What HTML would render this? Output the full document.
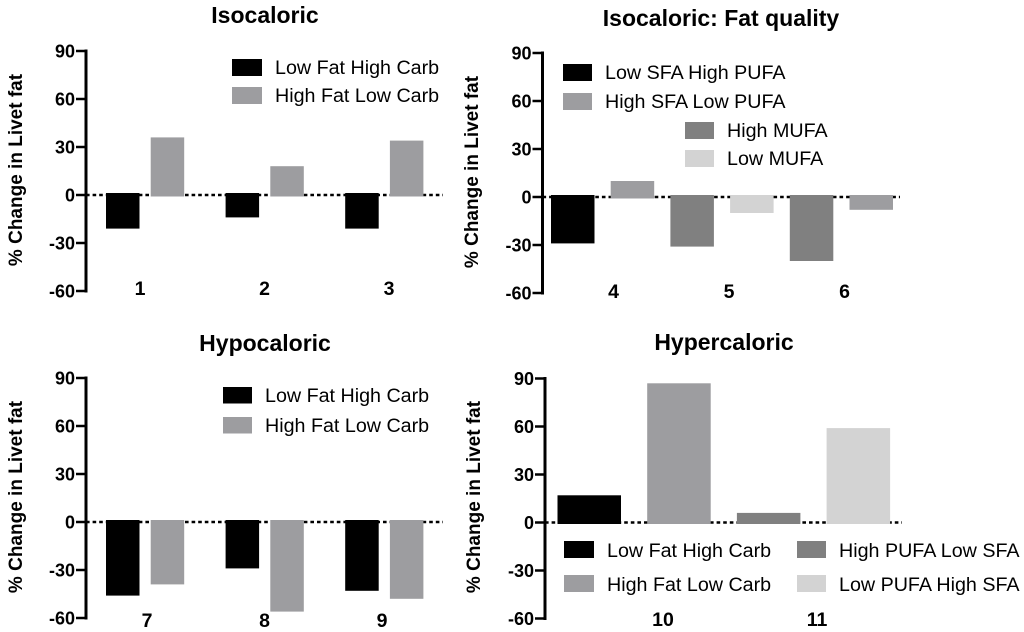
<!DOCTYPE html>
<html lang="en">
<head>
<meta charset="utf-8">
<title>Change in Liver Fat Charts</title>
<style>
html,body{margin:0;padding:0;background:#fff;width:1024px;height:632px;overflow:hidden}
svg{display:block;filter:blur(0.35px)}
text{font-family:"Liberation Sans",Arial,sans-serif;fill:#000}
.title{font-size:23px;font-weight:bold;text-anchor:middle}
.ytitle{font-size:19px;font-weight:bold;text-anchor:middle}
.tick{font-size:18px;font-weight:bold;text-anchor:end}
.cat{font-size:19.500px;font-weight:bold;text-anchor:middle}
.leg{font-size:19.700px}
</style>
</head>
<body>
<svg id="chart" width="1024" height="632" viewBox="0 0 1024 632" xmlns="http://www.w3.org/2000/svg">
  <g id="panels"></g>

  <g>
    <text class="title" x="265" y="23">Isocaloric</text>
    <text class="title" x="721" y="26">Isocaloric: Fat quality</text>
    <text class="title" x="265" y="351">Hypocaloric</text>
    <text class="title" x="724" y="350">Hypercaloric</text>
  </g>

  <g>
    <text class="ytitle" transform="translate(22 170) rotate(-90)">% Change in Livet fat</text>
    <text class="ytitle" transform="translate(478 172) rotate(-90)">% Change in Livet fat</text>
    <text class="ytitle" transform="translate(22 497) rotate(-90)">% Change in Livet fat</text>
    <text class="ytitle" transform="translate(480 497) rotate(-90)">% Change in Livet fat</text>
  </g>

  <g>
    <rect x="232" y="59" width="30" height="17" fill="#000000"/>
    <text class="leg" x="275" y="74">Low Fat High Carb</text>
    <rect x="232" y="87" width="30" height="17" fill="#9d9da0"/>
    <text class="leg" x="275" y="102">High Fat Low Carb</text>
  </g>

  <g>
    <rect x="563" y="64" width="29" height="17" fill="#000000"/>
    <text class="leg" x="605" y="79">Low SFA High PUFA</text>
    <rect x="563" y="93" width="29" height="17" fill="#9d9da0"/>
    <text class="leg" x="605" y="108">High SFA Low PUFA</text>
    <rect x="685" y="122" width="29" height="17" fill="#808080"/>
    <text class="leg" x="727" y="137">High MUFA</text>
    <rect x="685" y="150" width="29" height="17" fill="#d3d3d3"/>
    <text class="leg" x="727" y="165">Low MUFA</text>
  </g>

  <g>
    <rect x="223" y="387" width="29" height="16.500" fill="#000000"/>
    <text class="leg" x="265" y="402">Low Fat High Carb</text>
    <rect x="223" y="417" width="29" height="16.500" fill="#9d9da0"/>
    <text class="leg" x="265" y="432">High Fat Low Carb</text>
  </g>

  <g>
    <rect x="564" y="541" width="30" height="17" fill="#000000"/>
    <text class="leg" x="607" y="557">Low Fat High Carb</text>
    <rect x="564" y="575" width="30" height="17" fill="#9d9da0"/>
    <text class="leg" x="607" y="591">High Fat Low Carb</text>
    <rect x="797" y="541" width="29" height="17" fill="#808080"/>
    <text class="leg" x="839" y="557">High PUFA Low SFA</text>
    <rect x="797" y="575" width="29" height="17" fill="#d3d3d3"/>
    <text class="leg" x="839" y="591">Low PUFA High SFA</text>
  </g>
</svg>

<script>
// Shared tick labels
var tickLabels = [90, 60, 30, 0, -30, -60];

// Isocaloric
var isoCategories = ["1", "2", "3"];
var isoLowFat = [-21, -14, -21];
var isoHighFat = [36, 18, 34];

// Isocaloric: fat quality
var qualityCategories = ["4", "5", "6"];
var qualityValues = [-29, 10, -31, -10, -40, -8];
var qualityTones = ["black", "mid", "dark", "light", "dark", "mid"];

// Hypocaloric
var hypoCategories = ["7", "8", "9"];
var hypoLowFat = [-46, -29, -43];
var hypoHighFat = [-39, -56, -48];

// Hypercaloric
var hyperCategories = ["10", "11"];
var hyperValues = [17, 87, 6, 59];
var hyperTones = ["black", "mid", "dark", "light"];

var palette = { black: "#000000", mid: "#9d9da0", dark: "#808080", light: "#d3d3d3" };
var SVG_NS = "http://www.w3.org/2000/svg";
var root = document.getElementById("panels");

function make(tag, attrs, parent) {
  var el = document.createElementNS(SVG_NS, tag);
  for (var k in attrs) { el.setAttribute(k, attrs[k]); }
  parent.appendChild(el);
  return el;
}

function drawAxis(p) {
  var g = make("g", {}, root);
  
  
  var top = p.y(tickLabels[0]);
  var bottom = p.y(tickLabels[tickLabels.length - 1]);
  var axisLine = make("line", { x1: p.axisX, x2: p.axisX, y1: top - 1.5, y2: bottom + 1.5, stroke: "#000", "stroke-width": 3 }, g);
  
  
  tickLabels.forEach(function (t) {
    var tick = make("line", { x1: p.axisX - 10, x2: p.axisX, y1: p.y(t), y2: p.y(t), stroke: "#000", "stroke-width": 2.5 }, g);
    
    
    var label = make("text", { "class": "tick", x: p.axisX - 11, y: p.y(t) + 6.5 }, g);
    
    
    label.textContent = String(t);
  });
}

function drawZeroLine(p) {
  var zero = make("line", { x1: p.axisX, x2: p.zeroEnd, y1: p.y(0), y2: p.y(0), stroke: "#000", "stroke-width": 2.5, "stroke-dasharray": "3.6 3" }, root);
  
  
}

function drawBar(p, left, width, value, color) {
  var y0 = p.y(0), yv = p.y(value);
  var top = value < 0 ? y0 - 2 : yv;
  var bottom = value < 0 ? yv : y0 + 1.5;
  var bar = make("rect", { x: left, y: top, width: width, height: bottom - top, fill: color }, root);
  
  
}

function drawCategories(p, categories) {
  categories.forEach(function (c, i) {
    var label = make("text", { "class": "cat", x: p.catStart + p.catStep * i, y: p.catY }, root);
    
    
    label.textContent = c;
  });
}

function yScale(zeroY) {
  return function (v) { return zeroY - v * 1.6; };
}

function pairedPanel(p, categories, first, second) {
  drawZeroLine(p);
  categories.forEach(function (c, i) {
    drawBar(p, p.barStart + p.groupStep * i, p.barW, first[i], palette.black);
    drawBar(p, p.barStart + p.groupStep * i + p.pairGap, p.barW, second[i], palette.mid);
  });
  drawAxis(p);
  drawCategories(p, categories);
}

function seqPanel(p, categories, values, tones) {
  drawZeroLine(p);
  values.forEach(function (v, i) {
    drawBar(p, p.barStart + p.barStep * i, p.barW, v, palette[tones[i]]);
  });
  drawAxis(p);
  drawCategories(p, categories);
}

pairedPanel(
  { key: "isocaloric", axisX: 86, y: yScale(195), zeroEnd: 443, barStart: 106, groupStep: 119.6, pairGap: 44.7, barW: 33.5, catStart: 140, catStep: 124.5, catY: 295 },
  isoCategories, isoLowFat, isoHighFat
);
seqPanel(
  { key: "fat-quality", axisX: 542.5, y: yScale(197), zeroEnd: 900, barStart: 551, barStep: 59.7, barW: 43.5, catStart: 613.5, catStep: 115.5, catY: 298 },
  qualityCategories, qualityValues, qualityTones
);
pairedPanel(
  { key: "hypocaloric", axisX: 86, y: yScale(522), zeroEnd: 443, barStart: 106, groupStep: 119.6, pairGap: 44.7, barW: 33.5, catStart: 147, catStep: 117.5, catY: 627 },
  hypoCategories, hypoLowFat, hypoHighFat
);
seqPanel(
  { key: "hypercaloric", axisX: 545, y: yScale(522.5), zeroEnd: 902, barStart: 557.5, barStep: 89.7, barW: 63.5, catStart: 663, catStep: 154, catY: 626 },
  hyperCategories, hyperValues, hyperTones
);
</script>
</body>
</html>
